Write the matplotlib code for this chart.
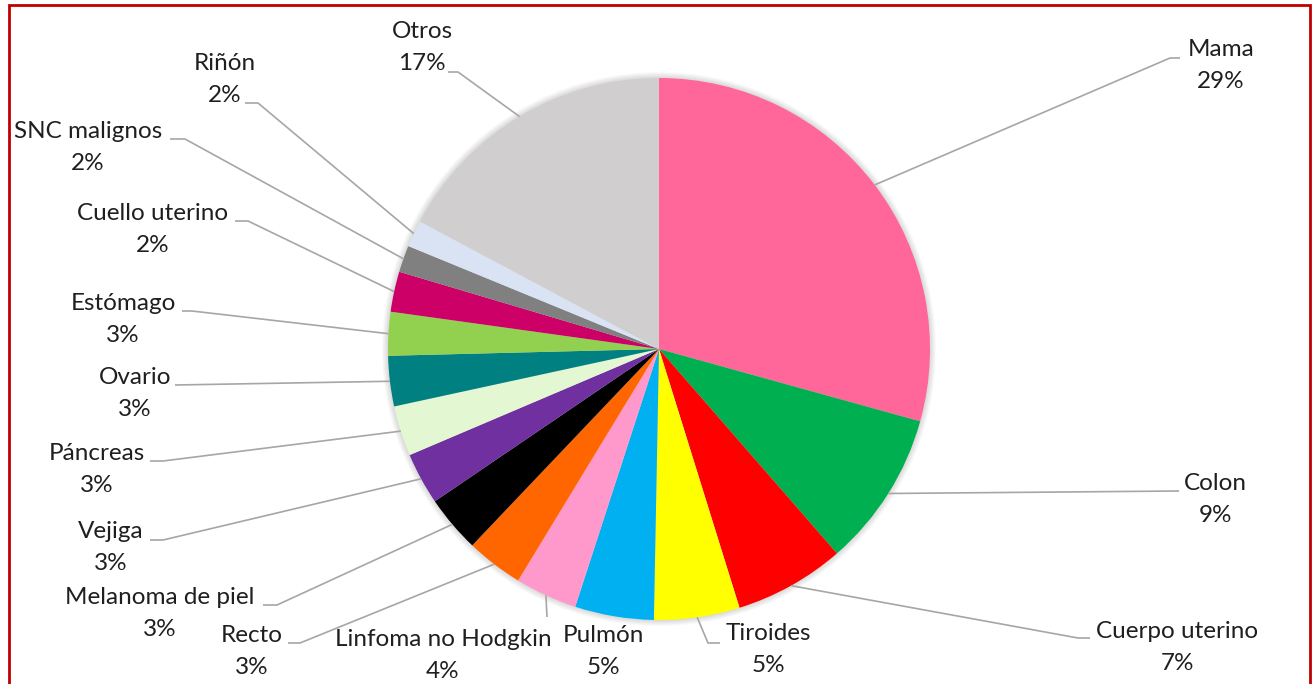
import matplotlib
matplotlib.use("Agg")
import matplotlib.pyplot as plt
from matplotlib.patches import Rectangle, Circle
import numpy as np

# datos: porcentaje de casos por localizacion
sitios = ["Mama", "Colon", "Cuerpo uterino", "Tiroides", "Pulmón",
          "Linfoma no Hodgkin", "Recto", "Melanoma de piel", "Vejiga",
          "Páncreas", "Ovario", "Estómago", "Cuello uterino", "SNC malignos",
          "Riñón", "Otros"]
porcentajes = [29.3, 9.3, 6.6, 5.1, 4.7, 3.7, 3.4, 3.4, 3.1, 3.0, 3.0,
               2.6, 2.4, 1.6, 1.6, 17.2]
colores = ["#FF6699", "#00B050", "#FF0000", "#FFFF00", "#00B0F0",
           "#FF99CC", "#FF6600", "#000000", "#7030A0", "#E2F7D2",
           "#008080", "#92D050", "#CC0066", "#808080", "#DAE3F3", "#D0CECE"]

W, H = 1314, 684

def px(x, y):
    # pixeles con origen arriba-izquierda -> coordenadas del eje
    return x, H - y

# posicion del texto y de la linea guia (codo, punta) en pixeles
etiquetas = {
    "Mama": ((1221, 66), (1170, 58), (1180, 58)),
    "Colon": ((1215, 499), None, (1179, 491)),
    "Cuerpo uterino": ((1177, 647), (1078, 638), (1090, 638)),
    "Tiroides": ((768, 650), (708, 643), (720, 643)),
    "Pulmón": ((603, 652), None, None),
    "Linfoma no Hodgkin": ((443, 656), None, (547, 617)),
    "Recto": ((252, 651), (300, 643), (288, 643)),
    "Melanoma de piel": ((160, 613), (277, 605), (263, 605)),
    "Vejiga": ((111, 548), (163, 540), (150, 540)),
    "Páncreas": ((97, 470), (163, 461), (150, 461)),
    "Ovario": ((135, 394), None, (175, 385)),
    "Estómago": ((123, 320), (192, 311), (182, 311)),
    "Cuello uterino": ((153, 229), (248, 221), (235, 221)),
    "SNC malignos": ((88, 148), (185, 139), (170, 139)),
    "Riñón": ((225, 79), (258, 103), (245, 103)),
    "Otros": ((422, 48), (458, 72), (448, 72)),
}

plt.rcParams['font.family'] = ['Lato', 'DejaVu Sans']

fig = plt.figure(figsize=(W / 100, H / 100), dpi=100)
ax = fig.add_axes([0, 0, 1, 1])

centro = px(659, 349)
radio = 271

# sombra suave alrededor del pastel
for k in range(6, 0, -1):
    ax.add_patch(Circle(centro, radio + k, color="#000000", alpha=0.025, lw=0, zorder=0))

cunas, _ = ax.pie(porcentajes, colors=colores, startangle=90, counterclock=False,
                  center=centro, radius=radio,
                  wedgeprops=dict(linewidth=0, edgecolor="none"))
for c in cunas:
    c.set_zorder(1)

gris = "#A6A6A6"
estilo = dict(ha="center", va="center", fontsize=17.5, color="#1F1F1F", zorder=3)
for cuna, nombre, p in zip(cunas, sitios, porcentajes):
    (tx, ty), codo, punta = etiquetas[nombre]
    # nombre arriba, porcentaje abajo
    ax.text(*px(tx, ty - 16), nombre, **estilo)
    ax.text(*px(tx, ty + 16), f"{int(p + 0.5)}%", **estilo)
    if punta is None:
        continue
    ang = np.deg2rad((cuna.theta1 + cuna.theta2) / 2)
    xs = [centro[0] + radio * np.cos(ang)]
    ys = [centro[1] + radio * np.sin(ang)]
    for q in (codo, punta):
        if q is not None:
            qx, qy = px(*q)
            xs.append(qx)
            ys.append(qy)
    ax.plot(xs, ys, color=gris, lw=1.2, solid_capstyle="butt", zorder=2)

ax.set_xlim(0, W)
ax.set_ylim(0, H)
ax.set_aspect("equal")
ax.axis("off")

# marco rojo
fig.patches.append(Rectangle((9 / W, -0.05), (1310 - 9) / W, (H - 5) / H + 0.05,
                             transform=fig.transFigure, fill=False,
                             edgecolor="#C00000", lw=2))

fig.savefig("out.png", dpi=100)
